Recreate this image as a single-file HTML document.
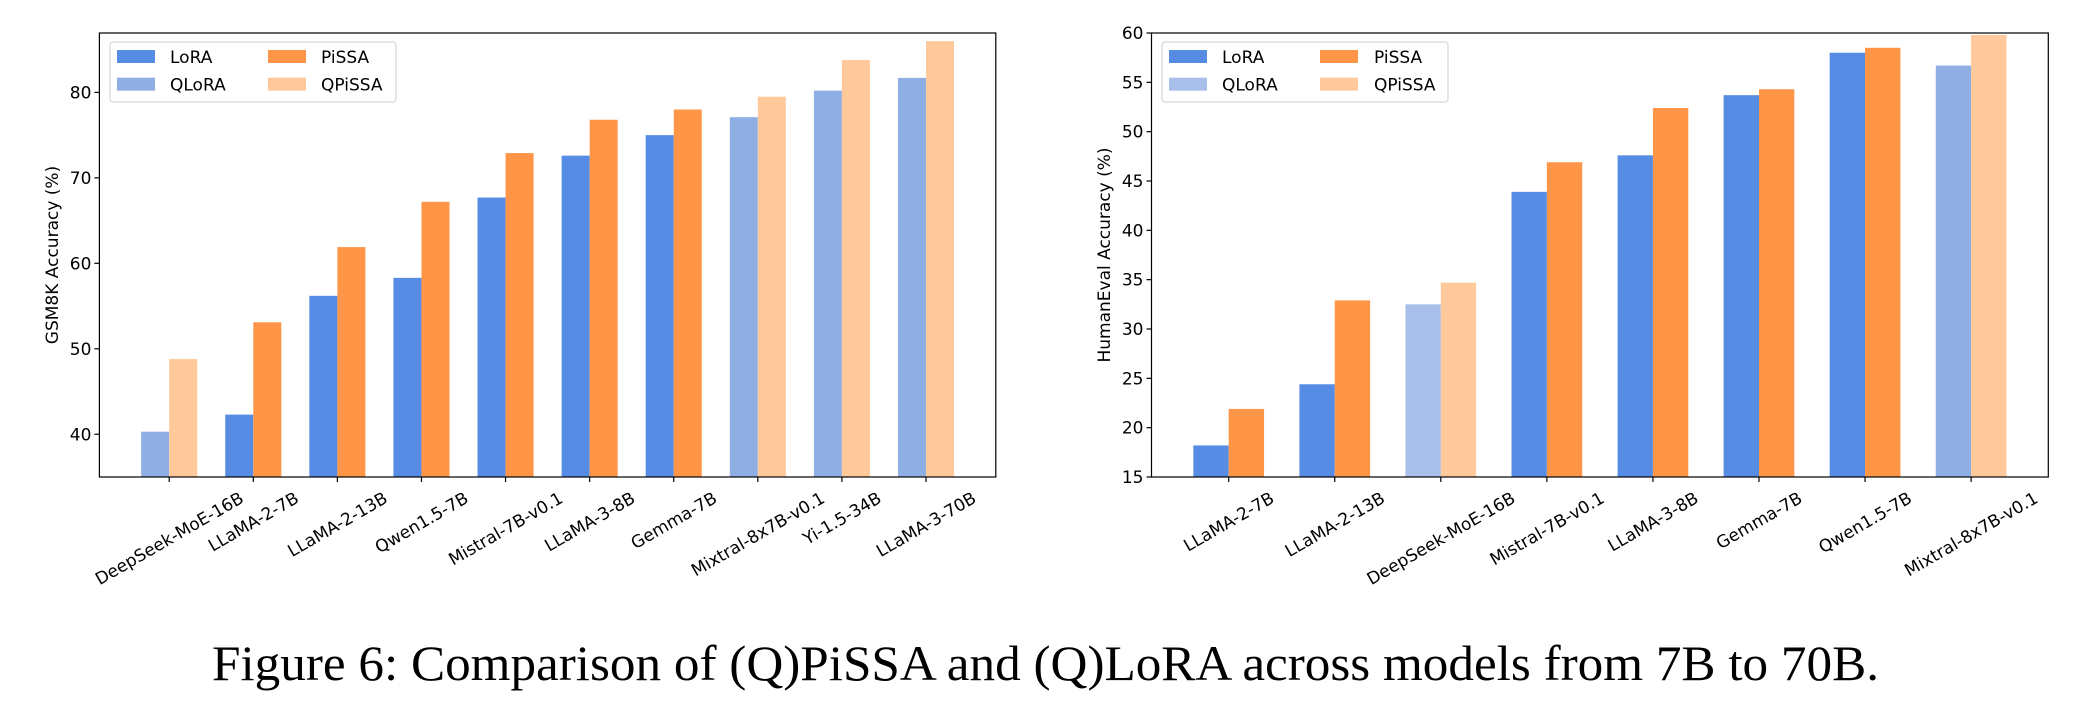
<!DOCTYPE html>
<html><head><meta charset="utf-8"><style>
html,body{margin:0;padding:0;background:#fff;}
svg{display:block;}
text{font-family:"DejaVu Sans","Liberation Sans",sans-serif;}
</style></head><body>
<svg id="fig" width="2082" height="706" viewBox="0 0 2082 706" xmlns="http://www.w3.org/2000/svg">
<text x="212" y="680" textLength="1667" lengthAdjust="spacingAndGlyphs" font-size="50" style="font-family:'Liberation Serif',serif" fill="#000">Figure 6: Comparison of (Q)PiSSA and (Q)LoRA across models from 7B to 70B.</text>
</svg>
<script>
// ---- Left chart data (GSM8K) ----
const gsmCategories = ["DeepSeek-MoE-16B","LLaMA-2-7B","LLaMA-2-13B","Qwen1.5-7B","Mistral-7B-v0.1","LLaMA-3-8B","Gemma-7B","Mixtral-8x7B-v0.1","Yi-1.5-34B","LLaMA-3-70B"];
const gsmLora = [40.3,42.3,56.2,58.3,67.7,72.6,75.0,77.1,80.2,81.7];
const gsmPissa = [48.8,53.1,61.9,67.2,72.9,76.8,78.0,79.5,83.8,86.0];
const gsmQuantized = [true,false,false,false,false,false,false,true,true,true];
const gsmTicks = [40,50,60,70,80];
// ---- Right chart data (HumanEval) ----
const heCategories = ["LLaMA-2-7B","LLaMA-2-13B","DeepSeek-MoE-16B","Mistral-7B-v0.1","LLaMA-3-8B","Gemma-7B","Qwen1.5-7B","Mixtral-8x7B-v0.1"];
const heLora = [18.2,24.4,32.5,43.9,47.6,53.7,58.0,56.7];
const hePissa = [21.9,32.9,34.7,46.9,52.4,54.3,58.5,59.8];
const heQuantized = [false,false,true,false,false,false,false,true];
const heTicks = [15,20,25,30,35,40,45,50,55,60];

const NS="http://www.w3.org/2000/svg";
const svg=document.getElementById('fig');
function mk(tag,attrs,parent){const e=document.createElementNS(NS,tag);for(const k in attrs)e.setAttribute(k,attrs[k]);(parent||svg).appendChild(e);return e;}

function drawChart(o){
  const g=mk('g',{});
  
  
  const L=o.left,R=o.right,T=33,B=477;
  const n=o.cats.length;
  const step=(R-L)/(n-1+2*o.padFrac);
  const xc=i=>L+step*(o.padFrac+i);
  const y=v=>B-(v-o.ymin)/(o.ymax-o.ymin)*(B-T);
  const bw=step/3;
  for(let i=0;i<n;i++){
    const q=o.quant[i];
    const r1=mk('rect',{x:xc(i)-bw,y:y(o.lora[i]),width:bw,height:B-y(o.lora[i]),fill:q?o.qloraColor(i):'#568ce3'},g);
    
    
    const r2=mk('rect',{x:xc(i),y:y(o.pissa[i]),width:bw,height:B-y(o.pissa[i]),fill:q?'#ffc99b':'#ff9547'},g);
    
    
  }
  const frame=mk('rect',{x:L,y:T,width:R-L,height:B-T,fill:'none',stroke:'#000','stroke-width':1.2},g);
  
  
  for(const t of o.ticks){
    const yy=y(t);
    mk('line',{x1:L-5,x2:L,y1:yy,y2:yy,stroke:'#000','stroke-width':1.2},g);
    const tl=mk('text',{x:L-8,y:yy+6,'text-anchor':'end','font-size':17,fill:'#000'},g);
    tl.textContent=t;
    
    
  }
  for(let i=0;i<n;i++){
    const xx=xc(i);
    mk('line',{x1:xx,x2:xx,y1:B,y2:B+5,stroke:'#000','stroke-width':1.2},g);
    const tx=mk('text',{x:0,y:0,'text-anchor':'middle','font-size':17,fill:'#000'},g);
    tx.textContent=o.cats[i];
    
    
    const len=tx.getComputedTextLength();
    const h=len*0.5+17*0.866;
    const cy=B+12+h/2;
    tx.setAttribute('transform','translate('+xx+','+cy+') rotate(-30)');
    tx.setAttribute('y',6);
  }
  const yl=mk('text',{x:0,y:0,'text-anchor':'middle','font-size':17,fill:'#000',transform:'translate('+(o.ylabX+6)+',255) rotate(-90)'},g);
  yl.textContent=o.ylabel;
  
  
  // legend
  const lg=mk('g',{},g);
  
  
  mk('rect',{x:o.lg.x,y:42,width:o.lg.w,height:60,rx:3,fill:'#fff',stroke:'#d6d6d6','stroke-width':1.2},lg);
  const items=[['LoRA','#568ce3',0,0],['PiSSA','#ff9547',1,0],['QLoRA',o.legendQ,0,1],['QPiSSA','#ffc99b',1,1]];
  for(const it of items){
    const px=it[2]?o.lg.p2:o.lg.p1, tx=it[2]?o.lg.t2:o.lg.t1;
    const py=it[3]?77.7:50;
    const e=mk('g',{},lg);
    
    
    mk('rect',{x:px,y:py,width:38,height:13,fill:it[1]},e);
    const t=mk('text',{x:tx,y:py+13,'font-size':17,fill:'#000'},e);
    t.textContent=it[0];
  }
}
drawChart({name:'gsm8k-chart',left:99.4,right:995.8,padFrac:(169.2-99.4)/84.1,ymin:35,ymax:86.95,
  cats:gsmCategories,lora:gsmLora,pissa:gsmPissa,quant:gsmQuantized,ticks:gsmTicks,
  qloraColor:()=> '#8faee3',legendQ:'#8faee3',ylabel:'GSM8K Accuracy (%)',ylabX:52,
  lg:{x:110,w:286,p1:117,t1:170,p2:268,t2:321}});
drawChart({name:'humaneval-chart',left:1151.5,right:2048.3,padFrac:(1228.8-1151.5)/106.2,ymin:15,ymax:60,
  cats:heCategories,lora:heLora,pissa:hePissa,quant:heQuantized,ticks:heTicks,
  qloraColor:i=> i<4?'#a8bfe9':'#8faee3',legendQ:'#a8bfe9',ylabel:'HumanEval Accuracy (%)',ylabX:1104,
  lg:{x:1162,w:286,p1:1169,t1:1222,p2:1320,t2:1374}});
</script>
</body></html>
